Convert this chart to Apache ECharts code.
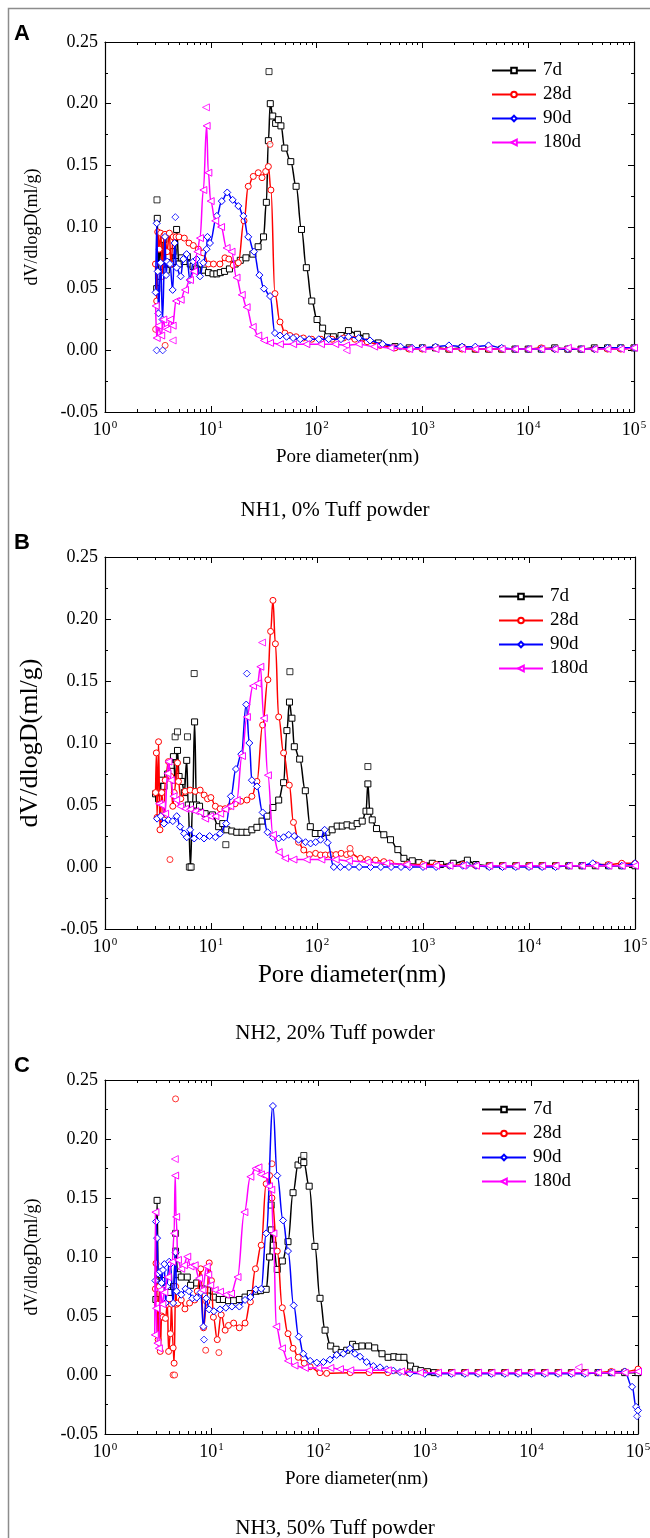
<!DOCTYPE html>
<html><head><meta charset="utf-8">
<script src="https://cdn.jsdelivr.net/npm/echarts@6/dist/echarts.min.js"></script>
<style>html,body{margin:0;padding:0;background:#fff}#c{width:650px;height:1538px}</style>
</head><body><div id="c"></div>
<script>
// ---------------- DATA ----------------
const SERIES_NAMES = ['7d', '28d', '90d', '180d'];
const CAPTIONS = ['NH1, 0% Tuff powder', 'NH2, 20% Tuff powder', 'NH3, 50% Tuff powder'];
const PANEL_LETTERS = ['A', 'B', 'C'];
const X_TITLE = 'Pore diameter(nm)';
const Y_TITLE = 'dV/dlogD(ml/g)';
const X_MIN = 1, X_MAX = 100000;
const Y_MIN = -0.05, Y_MAX = 0.25, Y_STEP = 0.05;

// Panel A (NH1)
const A_7D = [[3.08,0.05],[3.12,0.107],[3.2,0.06],[3.3,0.085],[3.45,0.068],[3.6,0.09],[3.8,0.065],[4.0,0.076],[4.2,0.07],[4.4,0.08],[4.6,0.072],[4.75,0.098],[5.0,0.07],[5.3,0.075],[5.6,0.072],[6.0,0.076],[6.4,0.07],[6.8,0.068],[7.3,0.066],[7.9,0.065],[8.5,0.065],[9.5,0.063],[10.5,0.062],[11.4,0.062],[12.3,0.063],[13.5,0.064],[15,0.066],[17,0.07],[19,0.073],[21.5,0.075],[25,0.078],[28,0.084],[31.5,0.092],[33.5,0.12],[35,0.17],[36.5,0.2],[38.5,0.19],[41,0.184],[43.5,0.187],[46,0.182],[50,0.164],[57,0.153],[64,0.133],[72,0.098],[80,0.067],[90,0.04],[101,0.025],[114,0.018],[127,0.011],[144,0.011],[170,0.012],[200,0.016],[243,0.013],[293,0.011],[383,0.006],[551,0.003],[750,0.002],[1000,0.002],[1330,0.002],[1780,0.001],[2370,0.002],[3160,0.001],[4220,0.001],[5620,0.001],[7500,0.001],[10000,0.001],[13300,0.001],[17800,0.002],[23700,0.001],[31600,0.001],[42200,0.002],[56200,0.002],[75000,0.002],[100000,0.002]];
const A_28D = [[3.0,0.07],[3.08,0.04],[3.15,0.096],[3.25,0.082],[3.36,0.095],[3.5,0.06],[3.6,0.093],[3.69,0.094],[3.85,0.08],[4.06,0.095],[4.2,0.07],[4.42,0.092],[4.7,0.092],[5.0,0.092],[5.62,0.091],[6.22,0.087],[6.83,0.085],[7.63,0.082],[8.49,0.079],[9.48,0.07],[10.6,0.07],[12.2,0.07],[13.6,0.075],[14.8,0.074],[16.3,0.069],[18.2,0.071],[20.6,0.105],[22.6,0.133],[25.2,0.141],[28.1,0.144],[30.5,0.14],[33,0.145],[35,0.149],[37,0.13],[40.4,0.046],[45.1,0.023],[50.2,0.014],[56,0.012],[64,0.011],[75,0.01],[90,0.009],[110,0.009],[140,0.009],[180,0.01],[230,0.009],[300,0.007],[400,0.004],[550,0.002],[750,0.001],[1000,0.001],[1330,0.002],[1780,0.001],[2370,0.001],[3160,0.001],[4220,0.001],[5620,0.001],[7500,0.001],[10000,0.001],[13300,0.002],[17800,0.001],[23700,0.001],[31600,0.001],[42200,0.001],[56200,0.001],[75000,0.001],[100000,0.002]];
const A_90D = [[3.01,0.047],[3.08,0.103],[3.15,0.064],[3.2,0.03],[3.36,0.071],[3.5,0.025],[3.69,0.092],[3.78,0.061],[3.88,0.072],[4.11,0.07],[4.36,0.049],[4.55,0.087],[4.75,0.067],[5.19,0.06],[5.5,0.074],[5.91,0.078],[6.35,0.057],[6.83,0.072],[7.34,0.074],[7.9,0.06],[8.49,0.071],[9.13,0.082],[9.3,0.092],[9.82,0.087],[11.4,0.109],[12.7,0.121],[14.3,0.128],[16.1,0.122],[18.2,0.117],[20.3,0.109],[22.6,0.092],[25.6,0.08],[28.8,0.061],[31.8,0.05],[36.3,0.044],[40.4,0.014],[45.1,0.012],[52,0.011],[60,0.01],[70,0.009],[85,0.009],[105,0.009],[130,0.009],[170,0.009],[200,0.011],[250,0.01],[320,0.008],[420,0.005],[620,0.003],[800,0.002],[1000,0.002],[1330,0.003],[1780,0.004],[2370,0.003],[3160,0.003],[4220,0.004],[5620,0.002],[7500,0.001],[10000,0.001],[13300,0.001],[17800,0.001],[23700,0.001],[31600,0.001],[42200,0.001],[56200,0.002],[75000,0.002],[100000,0.002]];
const A_180D = [[3.01,0.036],[3.08,0.01],[3.2,0.02],[3.4,0.012],[3.56,0.025],[3.7,0.018],[3.88,0.017],[4.11,0.025],[4.36,0.02],[4.69,0.04],[5.19,0.041],[5.7,0.049],[6.35,0.057],[6.94,0.064],[7.46,0.08],[7.9,0.091],[8.5,0.13],[9.13,0.182],[9.48,0.144],[9.97,0.121],[11,0.105],[12.5,0.1],[14.1,0.083],[15.7,0.08],[17.5,0.059],[19.6,0.045],[21.8,0.035],[24.9,0.019],[28.1,0.012],[31.8,0.008],[36.3,0.006],[45,0.005],[60,0.005],[80,0.005],[110,0.005],[150,0.005],[190,0.004],[250,0.005],[350,0.003],[500,0.002],[750,0.001],[1000,0.001],[1330,0.001],[1780,0.001],[2370,0.001],[3160,0.001],[4220,0.001],[5620,0.001],[7500,0.001],[10000,0.001],[13300,0.001],[17800,0.001],[23700,0.002],[31600,0.001],[42200,0.001],[56200,0.001],[75000,0.001],[100000,0.002]];
const A_7D_PTS = [[3.1,0.122],[35.5,0.226]];
const A_28D_PTS = [[3.01,0.017],[3.7,0.004],[36.3,0.167]];
const A_90D_PTS = [[3.08,0],[3.51,0],[4.62,0.108]];
const A_180D_PTS = [[9.0,0.197],[4.36,0.008],[192,0]];

// Panel B (NH2)
const B_7D = [[3.0,0.059],[3.2,0.055],[3.4,0.07],[3.6,0.065],[3.9,0.075],[4.2,0.082],[4.42,0.089],[4.6,0.07],[4.83,0.094],[5.0,0.073],[5.3,0.069],[5.6,0.06],[5.9,0.086],[6.1,0.05],[6.4,0.0],[6.7,0.05],[7.0,0.117],[7.3,0.05],[7.8,0.049],[8.8,0.043],[10.3,0.042],[11.8,0.0325],[12.9,0.035],[14.1,0.03],[15.7,0.029],[17.5,0.028],[19.6,0.028],[21.8,0.028],[24.3,0.03],[27.1,0.032],[30.3,0.037],[33.7,0.041],[38.4,0.048],[43.5,0.054],[48.4,0.068],[52,0.11],[55,0.133],[58,0.12],[61.1,0.097],[68.6,0.087],[77.6,0.0615],[86.5,0.0325],[96.4,0.027],[109,0.027],[124,0.028],[139,0.03],[155,0.033],[173,0.033],[192,0.034],[215,0.033],[239,0.035],[267,0.037],[290,0.045],[302,0.067],[315,0.045],[332,0.038],[364,0.031],[427,0.026],[494,0.022],[579,0.014],[660,0.007],[792,0.005],[916,0.0035],[1224,0.003],[1466,0.002],[1932,0.003],[2622,0.0055],[3160,0.002],[4220,0.001],[5620,0.001],[7500,0.001],[10000,0.001],[13300,0.001],[17800,0.001],[23700,0.001],[31600,0.001],[42200,0.001],[56200,0.001],[75000,0.001],[100000,0.001]];
const B_28D = [[3.0,0.06],[3.05,0.092],[3.1,0.04],[3.2,0.101],[3.3,0.03],[3.43,0.06],[3.6,0.038],[3.7,0.07],[3.97,0.085],[4.18,0.073],[4.36,0.049],[4.5,0.06],[4.83,0.084],[4.93,0.069],[5.19,0.055],[5.7,0.061],[6.35,0.062],[7.09,0.061],[7.9,0.062],[8.62,0.058],[9.27,0.055],[9.97,0.056],[11,0.049],[12.2,0.047],[13.6,0.047],[15.2,0.049],[16.9,0.051],[19.1,0.053],[21.8,0.054],[24.3,0.057],[27.1,0.069],[30.7,0.1145],[34.4,0.151],[36.5,0.19],[38.4,0.215],[40.5,0.18],[43.5,0.121],[48.4,0.092],[54.8,0.066],[60,0.036],[67,0.02],[75,0.0137],[85,0.01],[97,0.011],[108,0.0097],[120,0.0097],[134,0.01],[151,0.01],[169,0.011],[190,0.01],[207,0.011],[257,0.007],[302,0.006],[356,0.0056],[427,0.0043],[494,0.003],[700,0.002],[1000,0.002],[1330,0.002],[1780,0.001],[2370,0.002],[3160,0.001],[4220,0.001],[5620,0.001],[7500,0.001],[10000,0.001],[13300,0.001],[17800,0.001],[23700,0.001],[31600,0.001],[42200,0.002],[56200,0.002],[75000,0.003],[100000,0.003]];
const B_90D = [[3.1,0.039],[3.36,0.041],[3.6,0.035],[3.97,0.038],[4.36,0.037],[4.75,0.041],[5.11,0.0325],[5.58,0.027],[5.91,0.024],[6.35,0.03],[6.94,0.023],[7.8,0.025],[8.6,0.023],[9.7,0.025],[11,0.024],[12.2,0.027],[13.9,0.035],[15.4,0.057],[17.2,0.079],[19.3,0.091],[21.5,0.131],[23,0.1],[24.3,0.07],[27.1,0.065],[30.7,0.044],[34.2,0.028],[38.4,0.024],[43.5,0.023],[48.4,0.024],[54,0.026],[61,0.025],[67,0.022],[78,0.02],[87,0.019],[97,0.02],[108,0.022],[118,0.03],[126,0.0196],[144,0.0],[166,0.0],[200,0.0],[250,0.0],[320,0.0],[400,0.0],[500,0.0],[620,0.0],[750,0.0],[1000,0.0],[1330,0.0],[1780,0.001],[2370,0.001],[2600,0.0016],[3160,0.001],[4220,0.0],[5620,0.0],[7500,0.0],[10000,0.0],[13300,0.0],[17800,0.0],[23700,0.001],[31600,0.001],[40000,0.003],[56200,0.001],[75000,0.001],[100000,0.003]];
const B_180D = [[3.24,0.051],[3.43,0.05],[3.69,0.043],[3.88,0.0755],[3.97,0.085],[4.18,0.07],[4.42,0.057],[4.69,0.054],[5.11,0.049],[5.7,0.047],[6.35,0.0465],[7.09,0.045],[7.9,0.044],[8.8,0.039],[9.8,0.041],[11,0.041],[12.2,0.043],[13.6,0.0465],[15.2,0.049],[17.5,0.054],[19.6,0.0895],[21.8,0.121],[24.9,0.146],[27.5,0.148],[29.2,0.1615],[31.5,0.12],[34.4,0.074],[38.4,0.026],[43.5,0.012],[50,0.007],[60,0.006],[80,0.006],[110,0.006],[150,0.006],[200,0.005],[300,0.004],[450,0.003],[700,0.002],[1000,0.001],[1330,0.001],[1780,0.001],[2370,0.001],[3160,0.001],[4220,0.001],[5620,0.001],[7500,0.001],[10000,0.001],[13300,0.001],[17800,0.001],[23700,0.001],[31600,0.001],[42200,0.001],[56200,0.001],[75000,0.001],[100000,0.001]];
const B_7D_PTS = [[4.59,0.105],[4.83,0.109],[6.0,0.105],[6.94,0.156],[6.25,0.0],[6.5,0.0],[13.8,0.018],[55.5,0.1575],[302,0.081]];
const B_28D_PTS = [[4.1,0.006],[205,0.015]];
const B_90D_PTS = [[21.8,0.156]];
const B_180D_PTS = [[30.3,0.181]];

// Panel C (NH3)
const C_7D = [[3.0,0.064],[3.08,0.148],[3.15,0.085],[3.3,0.075],[3.6,0.08],[4.0,0.07],[4.4,0.075],[4.59,0.105],[4.83,0.085],[5.19,0.083],[5.91,0.083],[6.35,0.076],[7.25,0.078],[8.2,0.073],[9.13,0.072],[10.4,0.066],[11.8,0.064],[12.9,0.064],[14.4,0.063],[16.1,0.063],[18.2,0.064],[20.6,0.066],[23.1,0.069],[26.2,0.071],[28.8,0.0715],[32.5,0.0726],[35,0.1],[36.3,0.123],[38,0.11],[41.3,0.0895],[46.1,0.0966],[52.1,0.113],[58.1,0.1545],[64.7,0.178],[69.6,0.182],[73.3,0.18],[82.3,0.16],[93.1,0.109],[104,0.065],[116,0.038],[131,0.0246],[147,0.0218],[164,0.019],[185,0.021],[210,0.026],[227,0.024],[257,0.0246],[297,0.0246],[339,0.023],[397,0.018],[453,0.015],[513,0.0155],[571,0.015],[637,0.015],[736,0.0076],[821,0.0048],[916,0.0037],[1059,0.0028],[1224,0.002],[1780,0.002],[2370,0.002],[3160,0.002],[4220,0.002],[5620,0.002],[7500,0.002],[10000,0.002],[13300,0.002],[17800,0.002],[23700,0.002],[31600,0.002],[42200,0.002],[56200,0.002],[75000,0.002],[100000,0.002]];
const C_28D = [[2.97,0.073],[3.01,0.0946],[3.1,0.06],[3.15,0.03],[3.24,0.075],[3.3,0.02],[3.4,0.05],[3.5,0.049],[3.69,0.048],[3.85,0.06],[3.95,0.02],[4.11,0.035],[4.2,0.06],[4.36,0.023],[4.45,0.01],[4.6,0.075],[4.7,0.06],[4.83,0.061],[5.19,0.0636],[5.62,0.056],[6.22,0.061],[6.94,0.0636],[7.34,0.071],[7.9,0.09],[8.4,0.04],[9.0,0.062],[9.5,0.095],[9.97,0.08],[10.4,0.049],[11.3,0.03],[12.3,0.051],[13.4,0.038],[14.4,0.042],[16.1,0.044],[18.2,0.04],[20.6,0.044],[23.1,0.062],[25.8,0.09],[29.2,0.11],[32.5,0.162],[35,0.169],[36.8,0.15],[41.3,0.105],[46.1,0.057],[52.1,0.035],[58.1,0.0226],[65,0.015],[74,0.01],[84,0.007],[104,0.002],[120,0.0014],[200,0.002],[300,0.002],[450,0.002],[700,0.002],[1000,0.002],[1330,0.002],[1780,0.002],[2370,0.002],[3160,0.002],[4220,0.002],[5620,0.002],[7500,0.002],[10000,0.002],[13300,0.002],[17800,0.002],[23700,0.002],[31600,0.002],[42200,0.002],[56200,0.003],[75000,0.003],[100000,0.005]];
const C_90D = [[2.97,0.08],[3.01,0.13],[3.08,0.116],[3.15,0.086],[3.3,0.0876],[3.4,0.078],[3.5,0.089],[3.6,0.094],[3.7,0.061],[3.8,0.075],[4.0,0.096],[4.11,0.094],[4.36,0.061],[4.59,0.104],[4.69,0.071],[5.19,0.068],[5.7,0.073],[6.13,0.071],[6.59,0.065],[7.25,0.0655],[7.9,0.07],[8.38,0.041],[8.9,0.065],[9.48,0.0556],[10.5,0.054],[12,0.0556],[13.6,0.057],[15.5,0.058],[18.2,0.058],[20.6,0.0636],[23.1,0.066],[26,0.0726],[29.2,0.073],[32.5,0.12],[37.6,0.228],[41.3,0.169],[46.8,0.131],[52.1,0.105],[58.9,0.059],[65.7,0.0325],[72.5,0.018],[84,0.012],[97,0.0105],[112,0.011],[129,0.013],[149,0.017],[172,0.018],[199,0.0226],[221,0.018],[247,0.0155],[285,0.011],[329,0.0076],[380,0.0065],[439,0.0048],[507,0.0037],[585,0.0025],[726,0.0014],[1000,0.001],[1330,0.001],[1780,0.001],[2370,0.001],[3160,0.001],[4220,0.001],[5620,0.001],[7500,0.001],[10000,0.001],[13300,0.001],[17800,0.001],[23700,0.001],[31600,0.001],[42200,0.002],[56200,0.002],[75000,0.003],[88000,-0.01],[96000,-0.027],[100000,-0.03]];
const C_180D = [[2.93,0.034],[2.97,0.138],[3.01,0.0565],[3.1,0.027],[3.2,0.0226],[3.3,0.072],[3.45,0.06],[3.6,0.07],[3.88,0.083],[4.27,0.096],[4.45,0.12],[4.55,0.169],[4.65,0.134],[4.83,0.0975],[5.19,0.09],[5.5,0.093],[5.91,0.1003],[6.35,0.092],[6.94,0.093],[7.63,0.082],[8.2,0.072],[9.0,0.092],[9.3,0.085],[9.7,0.076],[10.7,0.072],[12,0.0706],[13.6,0.068],[15.2,0.069],[17.5,0.083],[20.3,0.138],[23.1,0.168],[25.8,0.175],[27.5,0.176],[29,0.17],[31.8,0.169],[34.5,0.16],[36.3,0.157],[38,0.12],[40.4,0.041],[45.7,0.0226],[52,0.012],[60,0.008],[75,0.006],[100,0.006],[130,0.006],[160,0.005],[200,0.004],[300,0.004],[450,0.004],[600,0.003],[900,0.002],[1330,0.002],[1780,0.002],[2370,0.002],[3160,0.002],[4220,0.002],[5620,0.002],[7500,0.002],[10000,0.002],[13300,0.002],[17800,0.002],[23700,0.002],[31600,0.002],[42200,0.002],[56200,0.002],[75000,0.002],[100000,0.003]];
const C_7D_PTS = [[36.3,0.144],[73.3,0.186],[4.59,0.12]];
const C_28D_PTS = [[4.59,0.234],[4.35,0.0],[4.5,0.0],[36.8,0.179],[8.8,0.021],[11.7,0.019]];
const C_90D_PTS = [[8.49,0.03],[98000,-0.035]];
const C_180D_PTS = [[4.52,0.183],[27700,0.0065]];

// ---------------- STYLE / LAYOUT ----------------
const COLORS = ['#000000', '#ff0000', '#0000ff', '#ff00ff'];
const SYMBOLS = ['rect', 'circle', 'diamond', 'triangle'];
const SYMBOL_SIZES = [6, 6, 7, 7];
const SYMBOL_ROT = [0, 0, 0, 90];
const SERIF = '"Liberation Serif", "Times New Roman", serif';
const SANS = '"Liberation Sans", Arial, sans-serif';

const PANELS = [
  { lines: [A_7D, A_28D, A_90D, A_180D], pts: [A_7D_PTS, A_28D_PTS, A_90D_PTS, A_180D_PTS],
    grid: { left: 105, top: 42, width: 529, height: 370 }, legend: { left: 491, top: 61 },
    yName: { size: 18, gap: 64 }, xName: { size: 19, gap: 36, shift: 44 }, caption: 510, letter: 34 },
  { lines: [B_7D, B_28D, B_90D, B_180D], pts: [B_7D_PTS, B_28D_PTS, B_90D_PTS, B_180D_PTS],
    grid: { left: 105, top: 557, width: 530, height: 372 }, legend: { left: 498, top: 587 },
    yName: { size: 26, gap: 62 }, xName: { size: 25, gap: 34, shift: 36 }, caption: 1033, letter: 543 },
  { lines: [C_7D, C_28D, C_90D, C_180D], pts: [C_7D_PTS, C_28D_PTS, C_90D_PTS, C_180D_PTS],
    grid: { left: 105, top: 1080, width: 533, height: 354 }, legend: { left: 481, top: 1100 },
    yName: { size: 18, gap: 64 }, xName: { size: 19, gap: 36, shift: 30 }, caption: 1528, letter: 1066 }
];

// log-spaced minor tick positions (in decades) for the bare tick axis
const MINOR_DECADE_POS = [];
for (let e = 0; e < 5; e++) for (let k = 2; k <= 9; k++) MINOR_DECADE_POS.push(e + Math.log10(k));

const AX_LINE = { show: true, onZero: false, lineStyle: { color: '#000', width: 1.2 } };
const MAJ_TICK = { show: true, inside: true, length: 6, lineStyle: { color: '#000', width: 1 } };

const grids = [], xAxes = [], yAxes = [], series = [], legends = [], graphics = [];

PANELS.forEach((P, p) => {
  grids.push(Object.assign({ outerBoundsMode: 'none', containLabel: false }, P.grid));
  grids.push(Object.assign({ outerBoundsMode: 'none', containLabel: false }, P.grid));
  const gData = 2 * p, gTick = 2 * p + 1;
  xAxes.push({
    type: 'log', logBase: 10, gridIndex: gData, position: 'bottom', min: X_MIN, max: X_MAX, splitNumber: 5,
    axisLine: AX_LINE, axisTick: MAJ_TICK, splitLine: { show: false },
    axisLabel: {
      color: '#000', fontFamily: SERIF, fontSize: 18, margin: 8, lineHeight: 20,
      formatter: v => '10{s|' + Math.round(Math.log10(v)) + '}',
      rich: { s: { fontFamily: SERIF, fontSize: 11, verticalAlign: 'top', lineHeight: 20, padding: [0, 0, 0, 1] } }
    },
    name: X_TITLE, nameLocation: 'middle', nameGap: P.xName.gap,
    nameTextStyle: { fontFamily: SERIF, fontSize: P.xName.size, color: '#000', verticalAlign: 'top',
      padding: [0, P.xName.shift, 0, 0] }
  });
  xAxes.push({
    type: 'log', logBase: 10, gridIndex: gData, position: 'top', min: X_MIN, max: X_MAX, splitNumber: 5,
    axisLine: AX_LINE, axisTick: MAJ_TICK, axisLabel: { show: false }, splitLine: { show: false }
  });
  ['bottom', 'top'].forEach(pos => xAxes.push({
    type: 'value', gridIndex: gTick, position: pos, min: 0, max: 5,
    axisLine: { show: false }, axisLabel: { show: false }, splitLine: { show: false },
    axisTick: { show: true, inside: true, length: 3, customValues: MINOR_DECADE_POS, lineStyle: { color: '#000', width: 1 } }
  }));
  const yCommon = {
    type: 'value', gridIndex: gData, min: Y_MIN, max: Y_MAX, interval: Y_STEP,
    axisLine: AX_LINE, axisTick: MAJ_TICK, splitLine: { show: false },
    minorTick: { show: true, splitNumber: 2, length: 3, lineStyle: { color: '#000', width: 1 } },
    minorSplitLine: { show: false }
  };
  yAxes.push(Object.assign({}, yCommon, {
    position: 'left',
    axisLabel: { color: '#000', fontFamily: SERIF, fontSize: 18, margin: 7, formatter: v => v.toFixed(2) },
    name: Y_TITLE, nameLocation: 'middle', nameGap: P.yName.gap, nameRotate: 90,
    nameTextStyle: { fontFamily: SERIF, fontSize: P.yName.size, color: '#000' }
  }));
  yAxes.push(Object.assign({}, yCommon, { position: 'right', axisLabel: { show: false } }));
  yAxes.push({ type: 'value', gridIndex: gTick, show: false, min: 0, max: 1 });

  P.lines.forEach((data, i) => {
    series.push({
      type: 'line', name: SERIES_NAMES[i], xAxisIndex: 4 * p, yAxisIndex: 3 * p, data: data,
      smooth: 0.4, smoothMonotone: 'x', showSymbol: true, showAllSymbol: true,
      symbol: SYMBOLS[i], symbolSize: SYMBOL_SIZES[i], symbolRotate: SYMBOL_ROT[i],
      lineStyle: { color: COLORS[i], width: 1.5 },
      itemStyle: { color: '#ffffff', borderColor: COLORS[i], borderWidth: 1 },
      emphasis: { disabled: true }, animation: false, z: 2 + i
    });
    series.push({
      type: 'scatter', name: SERIES_NAMES[i] + ' points', xAxisIndex: 4 * p, yAxisIndex: 3 * p, data: P.pts[i],
      symbol: SYMBOLS[i], symbolSize: SYMBOL_SIZES[i], symbolRotate: SYMBOL_ROT[i],
      itemStyle: { color: '#ffffff', borderColor: COLORS[i], borderWidth: 1 },
      emphasis: { disabled: true }, animation: false, z: 2 + i
    });
  });

  legends.push({
    show: true, orient: 'vertical', left: P.legend.left, top: P.legend.top,
    itemWidth: 44, itemHeight: 7, itemGap: 5, padding: 0,
    textStyle: { fontFamily: SERIF, fontSize: 19, color: '#000', padding: [0, 0, 0, 2] },
    data: SERIES_NAMES.slice(), selectedMode: false
  });

  graphics.push({ type: 'text', x: 335, y: P.caption,
    style: { text: CAPTIONS[p], fontFamily: SERIF, fontSize: 21, fill: '#000', align: 'center', verticalAlign: 'middle' } });
  graphics.push({ type: 'text', x: 14, y: P.letter,
    style: { text: PANEL_LETTERS[p], fontFamily: SANS, fontWeight: 'bold', fontSize: 22, fill: '#000', align: 'left', verticalAlign: 'middle' } });
});

graphics.push({ type: 'polyline', shape: { points: [[8.5, 1538], [8.5, 8.5], [650, 8.5]] },
  style: { stroke: '#8c8c8c', lineWidth: 1.5, fill: null } });

const chart = echarts.init(document.getElementById('c'), null, { width: 650, height: 1538 });
chart.setOption({
  backgroundColor: '#ffffff',
  animation: false,
  grid: grids, xAxis: xAxes, yAxis: yAxes, series: series, legend: legends, graphic: graphics
});
</script></body></html>
